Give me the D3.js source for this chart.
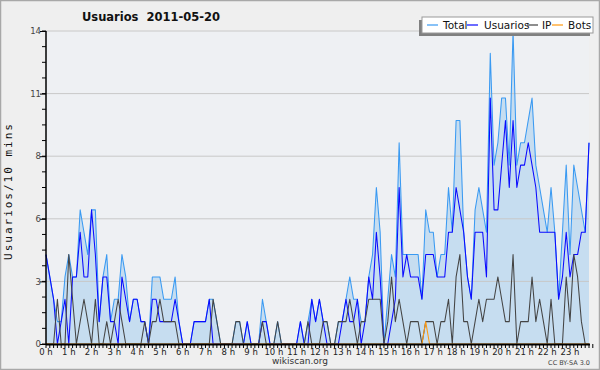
<!DOCTYPE html>
<html><head><meta charset="utf-8">
<script src="https://cdn.jsdelivr.net/npm/d3@7"></script>
<style>html,body{margin:0;padding:0;background:#f0f0f0;}svg{display:block;}</style>
</head><body>
<script>
const title = "Usuarios  2011-05-20";
const yLabel = "Usuarios/10 mins";
const hourLabels = d3.range(24).map(h => h + " h");
const yTicks = [0, 2.8, 5.6, 8.4, 11.2, 14];
const seriesNames = ["Total", "Usuarios", "IP", "Bots"];
const total = [4,3,2,1,1,3,4,3,3,6,5,4,6,6,1,3,4,1,2,2,4,3,1,2,2,1,1,0,3,3,3,2,2,2,3,1,0,0,0,1,1,1,1,2,2,1,0,0,0,0,1,1,0,1,0,0,0,2,1,0,0,1,0,0,0,0,0,1,0,1,2,1,2,1,1,0,0,1,1,2,3,2,2,1,1,3,4,7,5,0,2,4,3,9,4,4,4,4,4,2,6,5,5,3,4,4,7,5,10,10,5,3,2,6,7,6,5,13,8,9,11,11,8,14,8,9,9,10,11,8,7,6,5,7,5,2,5,8,4,8,7,6,5,9];
const usuarios = [4,3,2,0,1,2,0,3,3,5,3,3,6,4,1,3,3,1,1,0,3,2,1,2,2,1,1,0,2,2,1,1,1,1,2,1,0,0,0,1,1,1,1,2,0,0,0,0,0,0,0,0,0,1,0,0,0,1,1,0,0,0,0,0,0,0,0,1,0,0,2,1,2,1,0,0,0,0,1,2,1,1,2,0,1,3,2,5,3,0,0,1,2,7,3,4,3,3,3,2,4,4,4,3,3,3,5,5,7,6,5,3,2,5,5,5,3,11,6,6,8,10,7,10,7,8,8,9,8,7,5,5,5,5,5,2,3,5,3,4,4,5,5,9];
const ip = [0,0,0,2,0,0,4,2,0,1,2,1,0,2,0,0,1,0,1,2,1,0,0,0,0,0,1,0,1,1,2,1,1,1,1,0,0,0,0,0,0,0,0,0,2,1,0,0,0,0,1,1,0,0,0,0,0,1,0,0,0,1,0,0,0,0,0,0,0,1,0,0,0,1,1,0,0,1,1,1,2,1,0,1,1,2,2,2,2,0,1,3,1,2,1,0,1,1,1,0,1,1,1,0,1,1,2,0,3,4,1,1,0,1,2,1,2,2,2,3,2,1,1,4,0,1,1,1,3,1,2,1,0,2,0,0,0,3,1,4,3,1,0,0];
const bots = [0,0,0,0,0,0,0,0,0,0,0,0,0,0,0,0,0,0,0,0,0,0,0,0,0,0,0,0,0,0,0,0,0,0,0,0,0,0,0,0,0,0,0,0,0,0,0,0,0,0,0,0,0,0,0,0,0,0,0,0,0,0,0,0,0,0,0,0,0,0,0,0,0,0,0,0,0,0,0,0,0,0,0,0,0,0,0,0,0,0,0,0,0,0,0,0,0,0,0,0,1,0,0,0,0,0,0,0,0,0,0,0,0,0,0,0,0,0,0,0,0,0,0,0,0,0,0,0,0,0,0,0,0,0,0,0,0,0,0,0,0,0,0,0];
const colors = {Total:"#3a9af2", Usuarios:"#0a0aff", IP:"#444444", Bots:"#ff9a10"};

const W = 600, H = 370;
const svg = d3.select("body").append("svg").attr("width", W).attr("height", H);
svg.append("rect").attr("x",0.5).attr("y",0.5).attr("width",W-1).attr("height",H-1)
  .attr("fill","#efefef").attr("stroke","#a8a8a8").attr("stroke-width",1.5);

const x = d3.scaleLinear().domain([0, total.length - 1]).range([46, 589]);
const y = d3.scaleLinear().domain([0, 14]).range([344, 31]);

svg.append("rect").attr("x",46).attr("y",31).attr("width",543).attr("height",313).attr("fill","#eef0f3");

// area
svg.append("path").datum(total)
  .attr("fill","#c6ddf0")
  .attr("d", d3.area().x((d,i)=>x(i)).y0(y(0)).y1(d=>y(d)));

// grid
svg.append("g").selectAll("line").data(yTicks.slice(1)).join("line")
  .attr("x1",46).attr("x2",589).attr("y1",d=>y(d)).attr("y2",d=>y(d))
  .attr("stroke","#c8c8c8").attr("stroke-width",1);

const line = d3.line().x((d,i)=>x(i)).y(d=>y(d));
[[total,"Total"],[usuarios,"Usuarios"],[ip,"IP"],[bots,"Bots"]].forEach(([arr,name])=>{
  svg.append("path").datum(arr).attr("fill","none").attr("stroke",colors[name])
    .attr("stroke-width",1.05).attr("stroke-linejoin","round").attr("d",line);
});

// y axis
const yAxis = d3.axisLeft(y).tickValues(yTicks).tickSize(6).tickFormat(d=>Math.round(d));
const gy = svg.append("g").attr("transform","translate(46,0)").call(yAxis);
gy.select(".domain").attr("stroke","#000").attr("stroke-width",1.5).attr("d","M0,31V344");
gy.selectAll("text").attr("font-family","DejaVu Sans").attr("font-size",8.5).attr("fill","#444").attr("x",-5);
gy.selectAll(".tick line").attr("stroke","#000");
const minorY = d3.range(0, 14.01, 0.7);
svg.append("g").selectAll("line").data(minorY).join("line")
  .attr("x1",42).attr("x2",46).attr("y1",d=>y(d)).attr("y2",d=>y(d)).attr("stroke","#000");

// x axis
const xTicks = d3.range(0, total.length + 1);
const gx = svg.append("g");
gx.selectAll("line").data(xTicks).join("line")
  .attr("x1",i=>x(i)).attr("x2",i=>x(i)).attr("y1",344).attr("y2",348)
  .attr("stroke","#000").attr("stroke-width",1);
gx.append("line").attr("x1",46).attr("x2",590).attr("y1",344.5).attr("y2",344.5).attr("stroke","#000").attr("stroke-width",2);
gx.selectAll("text").data(hourLabels).join("text")
  .attr("x",(d,h)=>x(h*6)).attr("y",355).attr("text-anchor","middle")
  .attr("font-family","DejaVu Sans").attr("font-size",8.5).attr("fill","#222")
  .text(d=>d);

// title
svg.append("text").attr("x",151).attr("y",21).attr("text-anchor","middle")
  .attr("font-family","DejaVu Sans").attr("font-weight","bold").attr("font-size",11.5)
  .attr("fill","#111").style("white-space","pre").text(title);

// y label
svg.append("text").attr("transform","translate(12,191) rotate(-90)").attr("text-anchor","middle")
  .attr("font-family","DejaVu Sans Mono").attr("font-size",11).attr("letter-spacing",2).attr("fill","#111")
  .text(yLabel);

// legend
const lg = svg.append("g");
lg.append("rect").attr("x",419).attr("y",20).attr("width",171).attr("height",16).attr("fill","#808080");
lg.append("rect").attr("x",422).attr("y",17).attr("width",171).attr("height",16).attr("fill","#fff").attr("stroke","#999").attr("stroke-width",1);
const legendX = [[427,443],[467,484],[527,542],[552,568]];
seriesNames.forEach((n,k)=>{
  lg.append("line").attr("x1",legendX[k][0]).attr("x2",legendX[k][0]+11).attr("y1",25).attr("y2",25)
    .attr("stroke",colors[n]).attr("stroke-width",1.2);
  lg.append("text").attr("x",legendX[k][1]).attr("y",29).attr("font-family","DejaVu Sans").attr("font-size",10.5)
    .attr("fill","#111").text(n);
});

// footer
svg.append("text").attr("x",300).attr("y",364).attr("text-anchor","middle").attr("font-family","DejaVu Sans")
  .attr("font-size",9).attr("fill","#333").text("wikiscan.org");
svg.append("text").attr("x",590).attr("y",365).attr("text-anchor","end").attr("font-family","DejaVu Sans")
  .attr("font-size",6.5).attr("fill","#444").text("CC BY-SA 3.0");
</script>
</body></html>
